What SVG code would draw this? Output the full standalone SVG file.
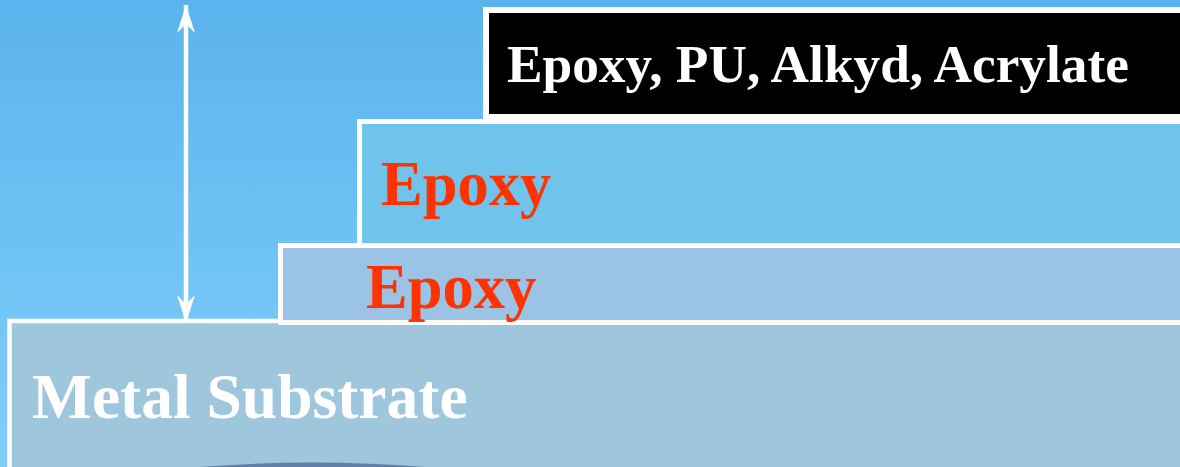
<svg xmlns="http://www.w3.org/2000/svg" width="1180" height="467" viewBox="0 0 1180 467">
<defs>
<linearGradient id="sky" x1="0" y1="0" x2="0" y2="1">
<stop offset="0" stop-color="#5bb3ed"/>
<stop offset="1" stop-color="#80cffb"/>
</linearGradient>
<marker id="ah" markerUnits="userSpaceOnUse" markerWidth="32" markerHeight="22" viewBox="-30 -10 32 20" refX="0" refY="0" orient="auto-start-reverse">
<path d="M0,0 L-28,-9 L-19,0 L-28,9 Z" fill="#ffffff"/>
</marker>
<style>
.layer{stroke:#ffffff;}
.t{font-family:"Liberation Serif","Times New Roman",serif;font-weight:bold;}
.w{fill:#ffffff;}
.r{fill:#ff3300;}
</style>
</defs>
<rect x="0" y="0" width="1180" height="467" fill="url(#sky)"/>
<g id="metal-substrate">
<rect class="layer" x="9.5" y="321" width="1200" height="200" fill="#9ec6dd" stroke-width="4.5"/>
<path d="M200 467 Q312 458 425 467 Z" fill="#5f7fa6"/>
<text class="t w" x="32" y="418" font-size="63.5">Metal Substrate</text>
</g>
<g id="epoxy-primer">
<rect class="layer" x="280.5" y="245.5" width="950" height="77" fill="#9ac3e6" stroke-width="5"/>
<text class="t r" x="366" y="308" font-size="62.5">Epoxy</text>
</g>
<g id="epoxy-intermediate">
<rect class="layer" x="359.5" y="121.5" width="900" height="124" fill="#70c4eb" stroke-width="5"/>
<text class="t r" x="381" y="205" font-size="62.5">Epoxy</text>
</g>
<g id="topcoat">
<rect class="layer" x="486" y="10" width="800" height="107" fill="#000000" stroke-width="6"/>
<text class="t w" x="507" y="82" font-size="53.3">Epoxy, PU, Alkyd, Acrylate</text>
</g>
<g id="connectors">
<line x1="186" y1="5" x2="186" y2="323" stroke="#ffffff" stroke-width="4.5" marker-start="url(#ah)" marker-end="url(#ah)"/>
</g>
</svg>
